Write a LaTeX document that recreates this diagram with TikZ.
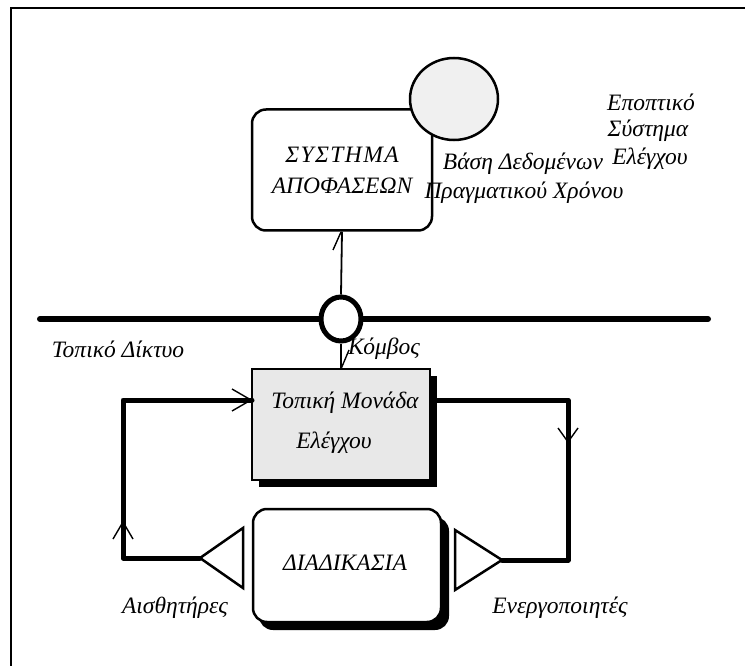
\documentclass[tikz,border=0pt]{standalone}
\usepackage{fontspec}
\setmainfont{Liberation Serif}
\usetikzlibrary{shapes.geometric}

\begin{document}
\begin{tikzpicture}[x=1pt,y=-1pt,
  txt/.style={font=\fontsize{23.5}{26}\selectfont\itshape, inner sep=0pt},
  boxline/.style={line width=2.5pt},
  busline/.style={line width=6pt, line cap=round},
  loopline/.style={line width=5pt, line cap=round, line join=round},
  wire/.style={line width=1.8pt},
  barb/.style={line width=1.4pt},
  shade/.style={fill=black, draw=none}]
\useasboundingbox (0,0) rectangle (745,666);

% outer frame
\draw[line width=2pt] (745,8) -- (11,8) -- (11,666);

% decision system and real-time database
\node[boxline, draw, rounded corners=14pt, fill=white,
      minimum width=180pt, minimum height=121pt] (dec) at (342,170) {};
\node[txt] (decA) at (342,155) {\addfontfeature{LetterSpace=6}ΣΥΣΤΗΜΑ};
\node[txt] (decB) at (342,186) {ΑΠΟΦΑΣΕΩΝ};
\node[ellipse, boxline, draw, fill=gray!12,
      minimum width=88pt, minimum height=82pt] (db) at (454,99) {};
\node[txt] (dbA) at (523,164) {Βάση Δεδομένων};
\node[txt] (dbB) at (524,193) {Πραγματικού Χρόνου};

\node[txt] (supA) at (651,102) {Εποπτικό};
\node[txt] (supB) at (648,131) {Σύστημα};
\node[txt] (supC) at (650,159) {Ελέγχου};

% local network bus with its node
\coordinate (netL) at (40,319);
\coordinate (netR) at (708,319);
\draw[busline] (netL) -- (netR);
\node[ellipse, draw, line width=5pt, fill=white,
      minimum width=40pt, minimum height=44pt, inner sep=0pt] (knot) at (341,319) {};
\node[txt] (netlbl) at (118,349) {Τοπικό Δίκτυο};
\node[txt] (knotlbl) at (384,349) {Κόμβος};

% local control unit with drop shadow
\fill[shade] (259,376) rectangle (437,487);
\node[draw, boxline, fill=gray!18, minimum width=178pt, minimum height=111pt,
      inner sep=0pt] (ctrl) at (341,424.5) {};
\node[txt] (ctrlA) at (345,403) {Τοπική Μονάδα};
\node[txt] (ctrlB) at (334,443) {Ελέγχου};

% connections between decision system, node and control unit
\draw[wire] (dec.south) -- (knot.north);
\draw[barb] (341,232) -- (333,250);
\draw[wire] (knot.south) -- (ctrl.north);
\draw[barb] (341,369) -- (349,350);

% process with drop shadow
\fill[shade, rounded corners=14pt] (259,517) rectangle (449,630);
\node[draw, boxline, rounded corners=14pt, fill=white,
      minimum width=188pt, minimum height=113pt, inner sep=0pt] (proc) at (347,565.5) {};
\node[txt] (procA) at (345,563) {ΔΙΑΔΙΚΑΣΙΑ};

% sensor and actuator triangles
\coordinate (sens) at (200,558);
\coordinate (act) at (502,560);
\draw[line width=2.5pt, line join=miter, fill=white] (sens) -- (243,528) -- (243,588) -- cycle;
\draw[line width=2.5pt, line join=miter, fill=white] (455,530) -- (455,590) -- (act) -- cycle;
\node[txt] (senslbl) at (175,608) {Αισθητήρες};
\node[txt] (actlbl) at (560,608) {Ενεργοποιητές};

% feedback loop
\coordinate (inL) at (252,400);
\coordinate (outR) at (437,400);
\draw[loopline] (sens) -- (123,558) -- (123,400) -- (inL);
\draw[loopline] (outR) -- (568,400) -- (568,560) -- (act);

% open arrow barbs on the loop
\draw[barb] (113,539) -- (123,522) -- (133,539);
\draw[barb] (232,389) -- (251,400) -- (232,411);
\draw[barb] (558,428) -- (568,442) -- (578,428);
\end{tikzpicture}
\end{document}
